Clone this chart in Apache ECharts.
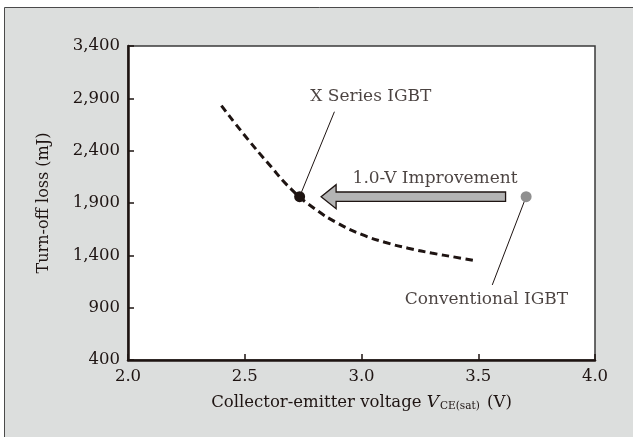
<!DOCTYPE html>
<html>
<head>
<meta charset="utf-8">
<script src="https://cdn.jsdelivr.net/npm/echarts@6/dist/echarts.min.js"></script>
<style>html,body{margin:0;padding:0;background:#fff}#c{width:633px;height:437px}</style>
</head>
<body>
<div id="c"></div>
<script>
// ---- data ----
const xTicks = [2.0, 2.5, 3.0, 3.5, 4.0];
const yTicks = [400, 900, 1400, 1900, 2400, 2900, 3400];
const curveX = [2.40, 2.50, 2.60, 2.70, 2.80, 2.90, 3.00, 3.10, 3.20, 3.30, 3.40, 3.48];
const curveY = [2830, 2545, 2280, 2030, 1845, 1705, 1600, 1525, 1468, 1422, 1383, 1352];
const pointNames = ['X Series IGBT', 'Conventional IGBT'];
const pointX = [2.735, 3.705];
const pointY = [1960, 1960];
const labelX = [3.04, 3.535];
const labelY = [2916, 973];
const leaderEndX = [2.884, 3.56];
const leaderEndY = [2772, 1117];
const arrowText = '1.0-V Improvement';
const arrowTail = [3.617, 1960];
const arrowTip = [2.827, 1960];
const arrowLabelPos = [3.315, 2135];

const FONT = 'DejaVu Serif';
const INK = '#1e1412';

const chart = echarts.init(document.getElementById('c'));
const series = [];

series.push({
  type: 'line', data: curveX.map((x, i) => [x, curveY[i]]),
  smooth: 0.5, symbol: 'none', silent: true, z: 2,
  lineStyle: { color: INK, width: 3, type: [7.5, 4.5] }
});

for (let i = 0; i < pointNames.length; i++) {
  series.push({
    type: 'line', data: [[pointX[i], pointY[i]], [leaderEndX[i], leaderEndY[i]]],
    symbol: 'none', silent: true, z: 3,
    lineStyle: { color: INK, width: 1 }
  });
}

series.push({
  type: 'custom', z: 4, silent: true,
  data: [[arrowTail[0], arrowTip[0], arrowTail[1]]],
  renderItem(params, api) {
    const p0 = api.coord([api.value(0), api.value(2)]);
    const p1 = api.coord([api.value(1), api.value(2)]);
    const y = p0[1], hs = 4.7, hh = 12, hl = 15;
    return {
      type: 'polygon',
      shape: { points: [[p0[0], y - hs], [p1[0] + hl, y - hs], [p1[0] + hl, y - hh], [p1[0], y], [p1[0] + hl, y + hh], [p1[0] + hl, y + hs], [p0[0], y + hs]] },
      style: { fill: '#b4b4b4', stroke: INK, lineWidth: 1.3 }
    };
  }
});

series.push({
  type: 'scatter', z: 5, silent: true, symbolSize: 11,
  data: pointX.map((x, i) => ({ value: [x, pointY[i]], itemStyle: { color: i === 0 ? INK : '#8f8f8f', opacity: 1 } }))
});

series.push({
  type: 'scatter', z: 6, silent: true, symbolSize: 0,
  data: pointNames.map((n, i) => ({ value: [labelX[i], labelY[i]], name: n }))
    .concat([{ value: arrowLabelPos, name: arrowText }]),
  label: { show: true, position: 'inside', formatter: p => p.name, color: INK, fontFamily: FONT, fontSize: 17 }
});

chart.setOption({
  animation: false,
  backgroundColor: '#fff',
  graphic: [{
    type: 'rect', z: -10, silent: true,
    shape: { x: 4.5, y: 7.5, width: 650, height: 450 },
    style: { fill: '#dcdedd', stroke: '#4a4a4a', lineWidth: 1 }
  }],
  grid: { left: 128, right: 38, top: 46, bottom: 77, show: true, backgroundColor: '#fff', borderColor: '#3a3a3a', borderWidth: 1.5 },
  xAxis: {
    type: 'value', min: 2, max: 4, interval: 0.5,
    name: '{t|Collector-emitter voltage }{i|V}{s|CE(sat)}{t| (V)}',
    nameLocation: 'middle', nameGap: 34,
    nameTextStyle: {
      rich: {
        t: { fontFamily: FONT, fontSize: 16.5, color: INK },
        i: { fontFamily: FONT, fontSize: 17, fontStyle: 'italic', color: INK },
        s: { fontFamily: FONT, fontSize: 10.5, color: INK, verticalAlign: 'bottom', padding: [7, 2, 0, 1] }
      }
    },
    axisLine: { lineStyle: { color: INK, width: 2.5 } },
    axisTick: { inside: true, length: 6, lineStyle: { color: INK, width: 1.5 }, customValues: xTicks },
    axisLabel: { customValues: xTicks, formatter: v => v.toFixed(1), color: INK, fontFamily: FONT, fontSize: 16.5, margin: 8 },
    splitLine: { show: false }
  },
  yAxis: {
    type: 'value', min: 400, max: 3400,
    name: 'Turn-off loss (mJ)', nameLocation: 'middle', nameGap: 76, nameRotate: 90,
    nameTextStyle: { fontFamily: FONT, fontSize: 16, color: INK },
    axisLine: { show: true, lineStyle: { color: INK, width: 2.5 } },
    axisTick: { show: true, inside: true, length: 6, lineStyle: { color: INK, width: 1.5 }, customValues: yTicks },
    axisLabel: { customValues: yTicks, formatter: v => v.toLocaleString('en-US'), color: INK, fontFamily: FONT, fontSize: 16.5, margin: 8 },
    splitLine: { show: false }
  },
  series
});
</script>
</body>
</html>
